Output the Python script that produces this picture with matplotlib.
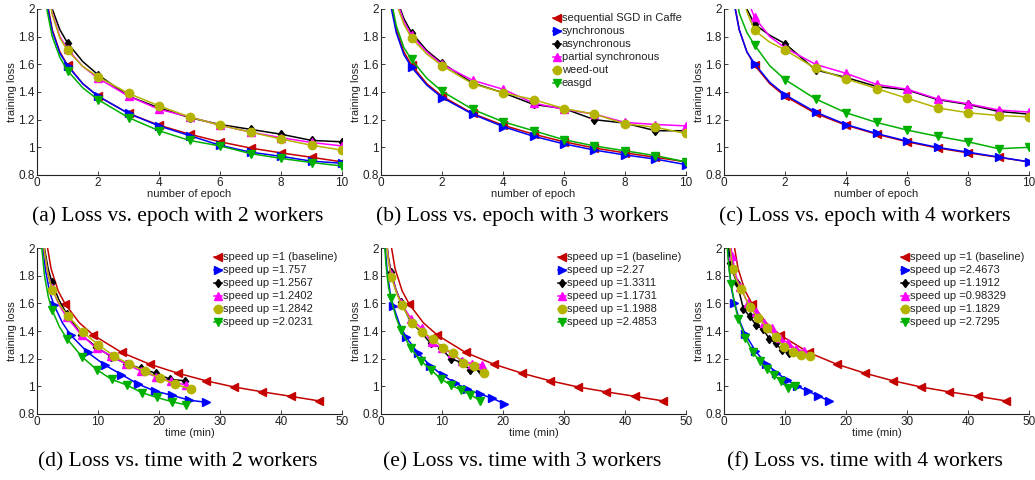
import matplotlib
matplotlib.use("Agg")
import matplotlib.pyplot as plt

epochs = [0.25, 0.5, 0.75, 1, 1.5, 2, 3, 4, 5, 6, 7, 8, 9, 10]
mark_at = [3, 5, 6, 7, 8, 9, 10, 11, 12, 13]

names = ["sequential SGD in Caffe", "synchronous", "asynchronous",
         "partial synchronous", "weed-out", "easgd"]
colors = ["#c40000", "#0000ff", "#000000", "#ff00ff", "#b4b400", "#00b000"]
markers = ["<", ">", "d", "^", "o", "v"]
msizes = [5.2, 5.2, 4.4, 5.2, 6, 5.2]

# sequential baseline (same run in every panel)
loss_seq = [2.15, 1.85, 1.69, 1.595, 1.46, 1.37, 1.245, 1.16, 1.095, 1.04, 0.995, 0.96, 0.928, 0.895]

# 2 workers
loss2_sync = [2.12, 1.84, 1.68, 1.59, 1.46, 1.37, 1.245, 1.155, 1.085, 1.015, 0.965, 0.935, 0.90, 0.885]
loss2_async = [2.35, 2.0, 1.85, 1.755, 1.62, 1.525, 1.37, 1.285, 1.215, 1.165, 1.13, 1.095, 1.05, 1.04]
loss2_partial = [2.3, 1.97, 1.80, 1.71, 1.585, 1.50, 1.37, 1.275, 1.22, 1.16, 1.11, 1.07, 1.035, 1.01]
loss2_weed = [2.3, 1.96, 1.79, 1.70, 1.585, 1.51, 1.39, 1.30, 1.22, 1.16, 1.11, 1.06, 1.015, 0.98]
loss2_easgd = [2.08, 1.80, 1.65, 1.555, 1.43, 1.345, 1.215, 1.12, 1.05, 1.01, 0.955, 0.92, 0.89, 0.865]

# 3 workers
loss3_sync = [2.1, 1.83, 1.67, 1.58, 1.45, 1.36, 1.24, 1.15, 1.08, 1.025, 0.98, 0.945, 0.915, 0.875]
loss3_async = [2.45, 2.08, 1.93, 1.83, 1.70, 1.61, 1.465, 1.395, 1.31, 1.28, 1.20, 1.175, 1.12, 1.12]
loss3_partial = [2.45, 2.07, 1.91, 1.81, 1.69, 1.60, 1.485, 1.42, 1.32, 1.275, 1.24, 1.18, 1.165, 1.155]
loss3_weed = [2.4, 2.04, 1.89, 1.79, 1.675, 1.59, 1.46, 1.395, 1.345, 1.28, 1.24, 1.17, 1.145, 1.10]
loss3_easgd = [2.15, 1.88, 1.72, 1.635, 1.50, 1.405, 1.275, 1.185, 1.12, 1.055, 1.01, 0.975, 0.94, 0.895]

# 4 workers
loss4_sync = [2.13, 1.85, 1.69, 1.605, 1.47, 1.38, 1.255, 1.165, 1.10, 1.045, 1.00, 0.965, 0.93, 0.895]
loss4_async = [2.55, 2.2, 2.0, 1.89, 1.81, 1.75, 1.56, 1.505, 1.44, 1.415, 1.345, 1.31, 1.26, 1.24]
loss4_partial = [2.6, 2.25, 2.08, 1.94, 1.80, 1.72, 1.60, 1.535, 1.455, 1.42, 1.35, 1.315, 1.27, 1.255]
loss4_weed = [2.5, 2.2, 1.98, 1.845, 1.76, 1.705, 1.57, 1.495, 1.425, 1.355, 1.285, 1.25, 1.23, 1.22]
loss4_easgd = [2.3, 1.97, 1.83, 1.74, 1.59, 1.49, 1.35, 1.25, 1.18, 1.125, 1.08, 1.04, 0.99, 1.00]

min_per_epoch2 = [4.62, 2.77, 2.43, 2.44, 2.52, 2.45]
min_per_epoch3 = [4.62, 2.02, 1.63, 1.66, 1.69, 1.63]
min_per_epoch4 = [4.62, 1.72, 1.06, 1.31, 1.41, 1.17]

speedup2 = ["1 (baseline)", "1.757", "1.2567", "1.2402", "1.2842", "2.0231"]
speedup3 = ["1 (baseline)", "2.27", "1.3311", "1.1731", "1.1988", "2.4853"]
speedup4 = ["1 (baseline)", "2.4673", "1.1912", "0.98329", "1.1829", "2.7295"]

runs2 = [loss_seq, loss2_sync, loss2_async, loss2_partial, loss2_weed, loss2_easgd]
runs3 = [loss_seq, loss3_sync, loss3_async, loss3_partial, loss3_weed, loss3_easgd]
runs4 = [loss_seq, loss4_sync, loss4_async, loss4_partial, loss4_weed, loss4_easgd]

captions_top = ["(a) Loss vs. epoch with 2 workers", "(b) Loss vs. epoch with 3 workers",
                "(c) Loss vs. epoch with 4 workers"]
captions_bot = ["(d) Loss vs. time with 2 workers", "(e) Loss vs. time with 3 workers",
                "(f) Loss vs. time with 4 workers"]

plt.rcParams['font.family'] = ['Liberation Sans', 'DejaVu Sans']
W, H = 1035, 480
fig = plt.figure(figsize=(W / 100, H / 100), dpi=100)

lefts = [37, 381, 724]
axw, axh = 305, 166
tops = [9, 248]


def style_axes(ax, xmax, xstep, xlabel):
    ax.set_xlim(0, xmax)
    ax.set_ylim(0.8, 2)
    ax.set_xticks(range(0, xmax + 1, xstep))
    yt = [0.8, 1.0, 1.2, 1.4, 1.6, 1.8, 2.0]
    ax.set_yticks(yt)
    ax.set_yticklabels(["0.8", "1", "1.2", "1.4", "1.6", "1.8", "2"])
    ax.spines['top'].set_visible(False)
    ax.spines['right'].set_visible(False)
    for s in ('left', 'bottom'):
        ax.spines[s].set_linewidth(0.8)
        ax.spines[s].set_color('#222222')
    ax.tick_params(direction='in', length=3, width=0.6, pad=1.5,
                   labelsize=8.5, colors='#222222')
    ax.set_ylabel("training loss", fontsize=8, color='#222222', labelpad=1)
    ax.set_xlabel(xlabel, fontsize=8, color='#222222', labelpad=0)


def make_axes(col, row):
    l = lefts[col] / W
    b = 1 - (tops[row] + axh) / H
    return fig.add_axes([l, b, axw / W, axh / H])


def add_legend(ax):
    ax.legend(loc='upper right', bbox_to_anchor=(1.0, 1.0), frameon=False,
              fontsize=8, handlelength=0.7, handletextpad=0.1,
              labelspacing=0.27, borderaxespad=0.2, borderpad=0.2,
              labelcolor='#222222')


for col, runs in enumerate([runs2, runs3, runs4]):
    ax = make_axes(col, 0)
    for k, loss in enumerate(runs):
        ax.plot(epochs, loss, color=colors[k], marker=markers[k], ms=msizes[k],
                markevery=mark_at, lw=1.1, label=names[k])
    style_axes(ax, 10, 2, "number of epoch")
    if col == 1:
        add_legend(ax)
    fig.text((lefts[col] + 141) / W, 1 - 216 / H, captions_top[col],
             family='Liberation Serif', fontsize=15.5, ha='center', va='center')

for col, (runs, rates, sp) in enumerate(zip([runs2, runs3, runs4],
                                            [min_per_epoch2, min_per_epoch3, min_per_epoch4],
                                            [speedup2, speedup3, speedup4])):
    ax = make_axes(col, 1)
    for k, loss in enumerate(runs):
        t = [e * rates[k] for e in epochs]
        ax.plot(t, loss, color=colors[k], marker=markers[k], ms=msizes[k],
                markevery=mark_at, lw=1.1, label="speed up =" + sp[k])
    style_axes(ax, 50, 10, "time (min)")
    add_legend(ax)
    fig.text((lefts[col] + 141) / W, 1 - 462 / H, captions_bot[col],
             family='Liberation Serif', fontsize=15.5, ha='center', va='center')

fig.savefig("out.png", dpi=100)
